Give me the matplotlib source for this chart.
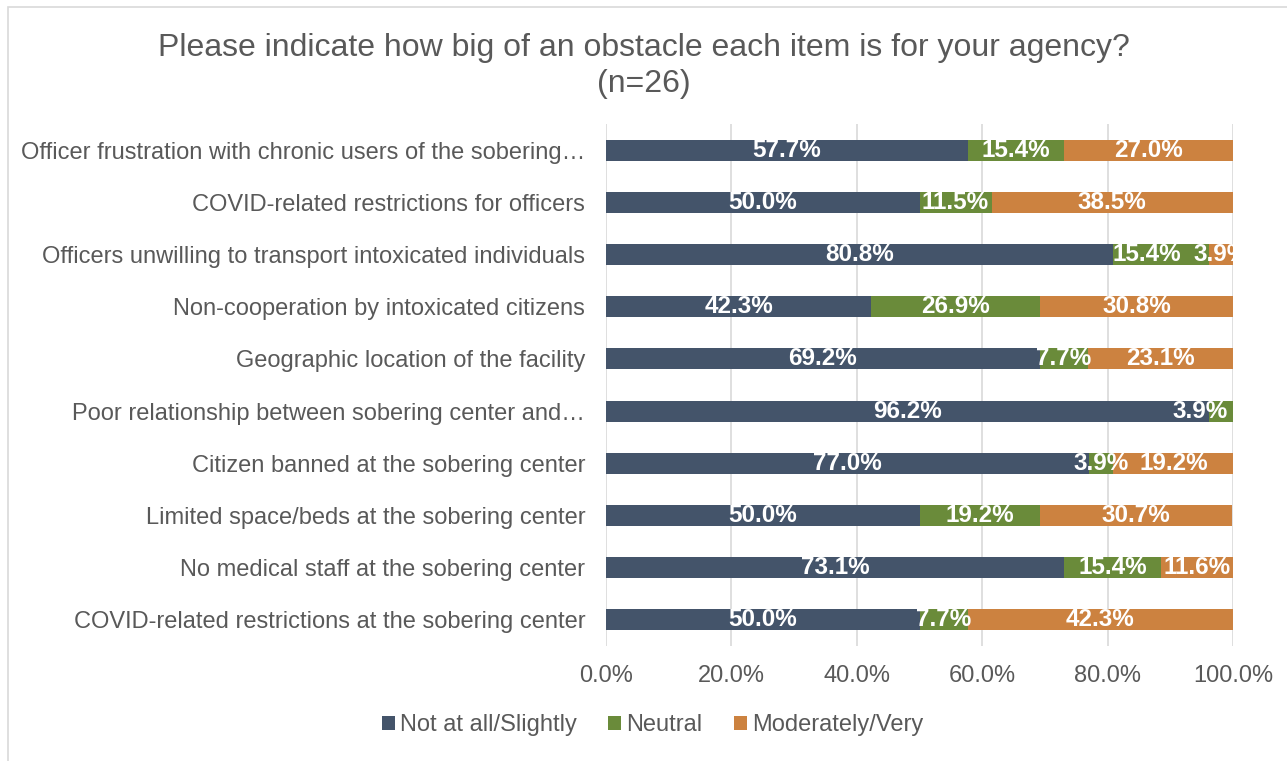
import matplotlib
matplotlib.use("Agg")
import matplotlib.pyplot as plt
from matplotlib.patches import Rectangle
import numpy as np

plt.rcParams['font.family'] = ['Liberation Sans', 'DejaVu Sans']

categories = [
    "Officer frustration with chronic users of the sobering\u2026",
    "COVID-related restrictions for officers",
    "Officers unwilling to transport intoxicated individuals",
    "Non-cooperation by intoxicated citizens",
    "Geographic location of the facility",
    "Poor relationship between sobering center and\u2026",
    "Citizen banned at the sobering center",
    "Limited space/beds at the sobering center",
    "No medical staff at the sobering center",
    "COVID-related restrictions at the sobering center",
]
not_at_all = [57.7, 50.0, 80.8, 42.3, 69.2, 96.2, 77.0, 50.0, 73.1, 50.0]
neutral = [15.4, 11.5, 15.4, 26.9, 7.7, 3.9, 3.9, 19.2, 15.4, 7.7]
moderately = [27.0, 38.5, 3.9, 30.8, 23.1, 0.0, 19.2, 30.7, 11.6, 42.3]
series_names = ["Not at all/Slightly", "Neutral", "Moderately/Very"]
colors = ["#44546A", "#6A8B3A", "#CC8240"]
ticks = [0, 20, 40, 60, 80, 100]

fig = plt.figure(figsize=(12.87, 7.61), dpi=100)
ax = fig.add_axes([606 / 1287, 1 - 646 / 761, 627 / 1287, 522 / 761])

# chart border like the Excel chart area
fig.patches.append(Rectangle((8 / 1287, -0.01), 1.0, 1 - 7 / 761 + 0.01,
                             transform=fig.transFigure, fill=False,
                             edgecolor="#D9D9D9", linewidth=1.2))

y = np.arange(len(categories))
left = np.zeros(len(categories))
half_w = 5.2  # approx half width of a label in data units
label_right = np.full(len(categories), -1.0)
last_label = [None] * len(categories)
for vals, name, col in zip([not_at_all, neutral, moderately], series_names, colors):
    vals = np.array(vals)
    ax.barh(y, vals, left=left, height=0.4, color=col, label=name, zorder=2)
    for i, v in enumerate(vals):
        if v <= 0:
            continue
        cx = left[i] + v / 2
        clip = False
        if cx + half_w > 100:
            alt = 100 - half_w
            if alt - half_w > label_right[i]:
                cx = alt
            else:
                # keep centred and clipped, push the previous label left
                clip = True
                prev = last_label[i]
                if prev is not None:
                    px = prev.get_position()[0]
                    prev.set_x(min(px, cx - 2 * half_w - 1.5))
        t = ax.text(cx, i, f"{v:.1f}%", ha="center", va="center", color="white",
                    fontsize=17.5, fontweight="bold", zorder=3, clip_on=clip)
        last_label[i] = t
        label_right[i] = cx + half_w
    left = left + vals

ax.set_xlim(0, 100)
ax.set_ylim(len(categories) - 0.5, -0.5)
ax.set_xticks(ticks)
ax.set_xticklabels([f"{t:.1f}%" for t in ticks])
ax.set_yticks(y)
ax.set_yticklabels(categories)
ax.tick_params(axis="both", length=0, labelsize=17, labelcolor="#595959")
ax.tick_params(axis="x", pad=14)
ax.tick_params(axis="y", pad=15)
ax.grid(axis="x", color="#D9D9D9", linewidth=1.2, zorder=0)
ax.set_axisbelow(True)
for s in ax.spines.values():
    s.set_visible(False)

fig.text(0.5, 1 - 66 / 761, "Please indicate how big of an obstacle each item is for your agency?\n(n=26)",
         ha="center", va="center", fontsize=23, color="#595959", linespacing=1.3)

fig.legend(loc="center", bbox_to_anchor=(0.507, 1 - 725 / 761), ncol=3, frameon=False,
           fontsize=17, labelcolor="#595959", handlelength=0.55, handleheight=0.55,
           handletextpad=0.2, columnspacing=1.35)

fig.savefig("out.png", dpi=100)
